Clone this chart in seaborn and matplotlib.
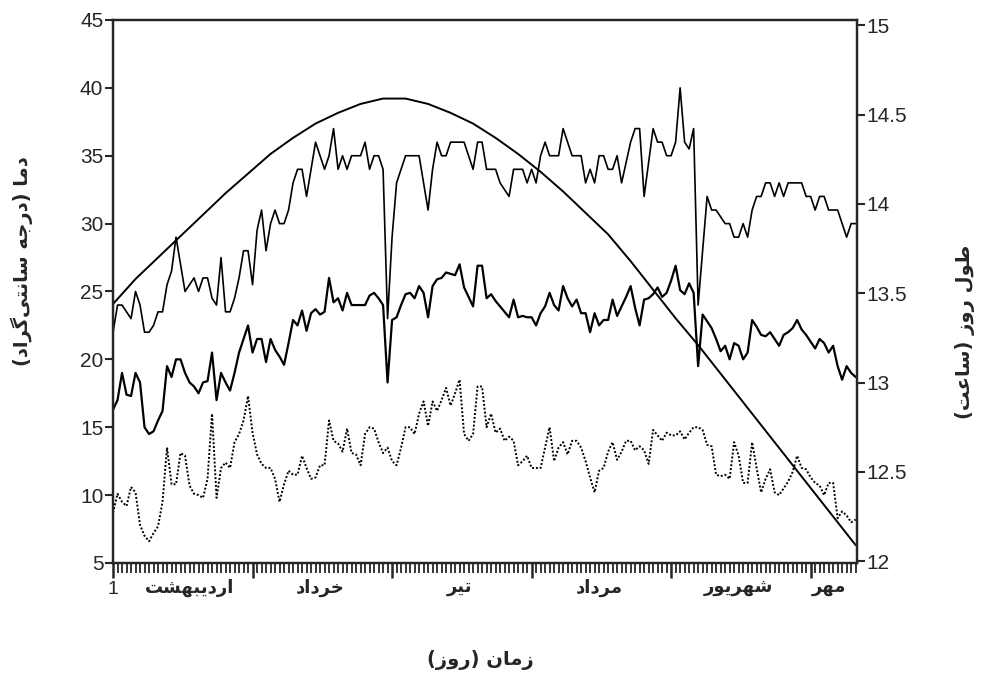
import numpy as np
import pandas as pd
import matplotlib
matplotlib.use("Agg")
import matplotlib.pyplot as plt
from matplotlib.ticker import FixedLocator, MultipleLocator, FuncFormatter
import seaborn as sns

# daily temperatures, day 1 = 1 Ordibehesht
t_max = [22, 24, 24, 23.5, 23, 25, 24, 22, 22, 22.5,
         23.5, 23.5, 25.5, 26.5, 29, 27, 25, 25.5, 26, 25,
         26, 26, 24.5, 24, 27.5, 23.5, 23.5, 24.5, 26, 28,
         28, 25.5, 29.5, 31, 28, 30, 31, 30, 30, 31,
         33, 34, 34, 32, 34, 36, 35, 34, 35, 37,
         34, 35, 34, 35, 35, 35, 36, 34, 35, 35,
         34, 23, 29, 33, 34, 35, 35, 35, 35, 33,
         31, 34, 36, 35, 35, 36, 36, 36, 36, 35,
         34, 36, 36, 34, 34, 34, 33, 32.5, 32, 34,
         34, 34, 33, 34, 33, 35, 36, 35, 35, 35,
         37, 36, 35, 35, 35, 33, 34, 33, 35, 35,
         34, 34, 35, 33, 34.5, 36, 37, 37, 32, 34.5,
         37, 36, 36, 35, 35, 36, 40, 36, 35.5, 37,
         24, 28, 32, 31, 31, 30.5, 30, 30, 29, 29,
         30, 29, 31, 32, 32, 33, 33, 32, 33, 32,
         33, 33, 33, 33, 32, 32, 31, 32, 32, 31,
         31, 31, 30, 29, 30, 30]

t_mean = [16.3, 17, 19, 17.4, 17.3, 19, 18.3, 15, 14.5, 14.7,
          15.5, 16.2, 19.5, 18.7, 20, 20, 19, 18.3, 18, 17.5,
          18.3, 18.4, 20.5, 17, 19, 18.3, 17.7, 19, 20.5, 21.5,
          22.5, 20.5, 21.5, 21.5, 19.8, 21.5, 20.7, 20.2, 19.6, 21.2,
          22.9, 22.5, 23.6, 22.1, 23.4, 23.7, 23.3, 23.5, 26, 24.2,
          24.5, 23.6, 24.9, 24, 24, 24, 24, 24.7, 24.9, 24.5,
          24, 18.3, 22.9, 23.1, 24, 24.8, 24.9, 24.5, 25.4, 24.9,
          23.1, 25.4, 25.9, 26, 26.4, 26.3, 26.2, 27, 25.3, 24.6,
          23.9, 26.9, 26.9, 24.5, 24.8, 24.3, 23.9, 23.5, 23.1, 24.4,
          23.1, 23.2, 23.1, 23.1, 22.5, 23.4, 23.9, 24.9, 24, 23.6,
          25.4, 24.5, 23.9, 24.4, 23.4, 23.4, 22, 23.4, 22.5, 22.9,
          22.9, 24.4, 23.2, 23.9, 24.6, 25.4, 23.8, 22.5, 24.4, 24.5,
          24.8, 25.3, 24.6, 24.9, 25.8, 26.9, 25.1, 24.8, 25.6, 24.9,
          19.5, 23.3, 22.8, 22.3, 21.5, 20.6, 21, 20, 21.2, 21,
          20, 20.5, 22.9, 22.4, 21.8, 21.7, 22, 21.5, 21, 21.8,
          22, 22.3, 22.9, 22.2, 21.8, 21.3, 20.8, 21.5, 21.2, 20.5,
          21, 19.5, 18.5, 19.5, 19, 18.7]

t_min = [8.7, 10.1, 9.5, 9.2, 10.6, 10.2, 7.8, 7, 6.6, 7.2,
         7.7, 9.5, 13.5, 10.8, 10.8, 13.1, 12.9, 10.7, 10.1, 10,
         9.8, 11.2, 16, 9.8, 12, 12.4, 12, 13.9, 14.5, 15.5,
         17.3, 14.6, 13, 12.3, 12, 12, 11.2, 9.5, 10.8, 11.8,
         11.5, 11.5, 12.9, 12, 11.2, 11.3, 12.2, 12.2, 15.5, 14,
         13.8, 13.2, 14.9, 13.1, 13, 12.2, 14.5, 15, 14.9, 13.9,
         13.1, 13.5, 12.5, 12.2, 13.5, 15, 15, 14.5, 16, 16.9,
         15.1, 16.9, 16.2, 17, 17.9, 16.6, 17.5, 18.5, 14.5, 14,
         14.5, 18, 18, 15, 16, 14.6, 14.9, 14, 14.3, 14,
         12.2, 12.5, 12.9, 12, 12, 12, 13.5, 15, 12.5, 13.5,
         13.9, 13, 14, 14, 13.5, 12.5, 11.3, 10.2, 11.8, 12,
         13.2, 13.9, 12.6, 13.2, 14, 14, 13.3, 13.6, 13.3, 12.3,
         14.8, 14.4, 14, 14.6, 14.4, 14.4, 14.7, 14.1, 14.6, 15,
         15, 14.8, 13.7, 13.6, 11.5, 11.4, 11.5, 11.2, 13.9, 12.9,
         10.9, 10.9, 13.9, 12, 10.2, 11.2, 11.9, 10.2, 10, 10.5,
         11, 11.7, 12.9, 12, 11.9, 11.3, 10.9, 10.7, 10, 10.9,
         10.9, 8.3, 8.8, 8.5, 8, 8.2]

# day length (hours), read every 5 days
dl_days = [1, 6, 11, 16, 21, 26, 31, 36, 41, 46, 51, 56, 61, 66, 71, 76, 81,
           86, 91, 96, 101, 106, 111, 116, 121, 126, 131, 136, 141, 146, 151,
           156, 161, 166]
day_len = [13.44, 13.58, 13.70, 13.82, 13.94, 14.06, 14.17, 14.28, 14.37,
           14.45, 14.51, 14.56, 14.59, 14.59, 14.56, 14.51, 14.45, 14.37,
           14.28, 14.18, 14.07, 13.95, 13.83, 13.68, 13.52, 13.36, 13.21,
           13.05, 12.89, 12.73, 12.57, 12.41, 12.25, 12.09]

month_names = ["اردیبهشت", "خرداد", "تیر", "مرداد", "شهریور", "مهر"]
month_pos = [18, 47, 78, 109, 140, 160]
month_starts = [1, 32, 63, 94, 125, 156]

# --- simple Persian shaping (matplotlib has no text shaping) ---
FORMS = {
    'ا': ('\uFE8D', '\uFE8E'), 'د': ('\uFEA9', '\uFEAA'), 'ر': ('\uFEAD', '\uFEAE'),
    'ز': ('\uFEAF', '\uFEB0'), 'و': ('\uFEED', '\uFEEE'),
    'ب': ('\uFE8F', '\uFE90', '\uFE91', '\uFE92'),
    'ت': ('\uFE95', '\uFE96', '\uFE97', '\uFE98'),
    'ج': ('\uFE9D', '\uFE9E', '\uFE9F', '\uFEA0'),
    'خ': ('\uFEA5', '\uFEA6', '\uFEA7', '\uFEA8'),
    'س': ('\uFEB1', '\uFEB2', '\uFEB3', '\uFEB4'),
    'ش': ('\uFEB5', '\uFEB6', '\uFEB7', '\uFEB8'),
    'ط': ('\uFEC1', '\uFEC2', '\uFEC3', '\uFEC4'),
    'ع': ('\uFEC9', '\uFECA', '\uFECB', '\uFECC'),
    'ل': ('\uFEDD', '\uFEDE', '\uFEDF', '\uFEE0'),
    'م': ('\uFEE1', '\uFEE2', '\uFEE3', '\uFEE4'),
    'ن': ('\uFEE5', '\uFEE6', '\uFEE7', '\uFEE8'),
    'ه': ('\uFEE9', '\uFEEA', '\uFEEB', '\uFEEC'),
    'ی': ('\uFBFC', '\uFBFD', '\uFBFE', '\uFBFF'),
    'گ': ('\uFB92', '\uFB93', '\uFB94', '\uFB95'),
}


def fa(s):
    out = []
    for i, c in enumerate(s):
        if c not in FORMS:
            if c != '\u200c':
                out.append(c)
            continue
        prev = s[i - 1] if i > 0 else ''
        nxt = s[i + 1] if i + 1 < len(s) else ''
        f = FORMS[c]
        jp = prev in FORMS and len(FORMS[prev]) == 4
        jn = len(f) == 4 and nxt in FORMS
        if jp and jn:
            g = f[3]
        elif jp:
            g = f[1]
        elif jn:
            g = f[2]
        else:
            g = f[0]
        out.append(g)
    vis = ''.join(reversed(out))
    return vis.translate(str.maketrans('()', ')('))


sns.set_style("ticks")
plt.rcParams['font.family'] = ['Liberation Sans', 'DejaVu Sans']

days = np.arange(1, len(t_max) + 1)
df = pd.DataFrame({"day": days, "tmax": t_max, "tmean": t_mean, "tmin": t_min})

fig = plt.figure(figsize=(9.88, 6.77), dpi=100)
ax = fig.add_axes([0.1144, 0.1684, 0.7530, 0.8021])

sns.lineplot(data=df, x="day", y="tmax", ax=ax, color="black", lw=1.2)
sns.lineplot(data=df, x="day", y="tmean", ax=ax, color="black", lw=1.6)
sns.lineplot(data=df, x="day", y="tmin", ax=ax, color="black", lw=1.4,
             linestyle=(0, (1, 1)))

ax.set_xlim(1, 166.3)
ax.set_ylim(5, 45)
ax.yaxis.set_major_locator(MultipleLocator(5))
ax.set_xlabel("")
ax.set_ylabel("")

ax.xaxis.set_major_locator(FixedLocator(month_starts))
ax.xaxis.set_minor_locator(FixedLocator(days))
ax.set_xticklabels(["1", "", "", "", "", ""])
ax.tick_params(axis="x", which="major", length=11, width=1.8, labelsize=14, pad=2)
ax.tick_params(axis="x", which="minor", length=7, width=1.3)
ax.tick_params(axis="y", which="major", length=6, width=1.5, labelsize=15, pad=1)

for sp in ax.spines.values():
    sp.set_linewidth(1.6)
    sp.set_color("black")

ax2 = ax.twinx()
sns.lineplot(x=dl_days, y=day_len, ax=ax2, color="black", lw=1.4)
ax2.set_ylim(11.99, 15.03)
ax2.set_xlim(1, 166.3)
ax2.yaxis.set_major_locator(MultipleLocator(0.5))
ax2.yaxis.set_major_formatter(FuncFormatter(lambda v, p: "%g" % v))
ax2.tick_params(axis="y", which="major", length=6, width=1.5, labelsize=15, pad=1)
ax2.set_ylabel("")
for sp in ax2.spines.values():
    sp.set_linewidth(1.6)

tr = ax.get_xaxis_transform()
for name, pos in zip(month_names, month_pos):
    ax.text(pos, -0.045, fa(name), transform=tr, ha="center", va="center",
            fontsize=13, fontweight="bold", family="DejaVu Sans")

fig.text(0.486, 0.025, fa("زمان (روز)"), ha="center", va="center",
         fontsize=14, fontweight="bold", family="DejaVu Sans")
fig.text(0.022, 0.615, fa("دما (درجه سانتی\u200cگراد)"), ha="center", va="center",
         rotation=90, fontsize=14, fontweight="bold", family="DejaVu Sans")
fig.text(0.977, 0.51, fa("طول روز (ساعت)"), ha="center", va="center",
         rotation=90, fontsize=14, fontweight="bold", family="DejaVu Sans")

fig.savefig("out.png", dpi=100)
